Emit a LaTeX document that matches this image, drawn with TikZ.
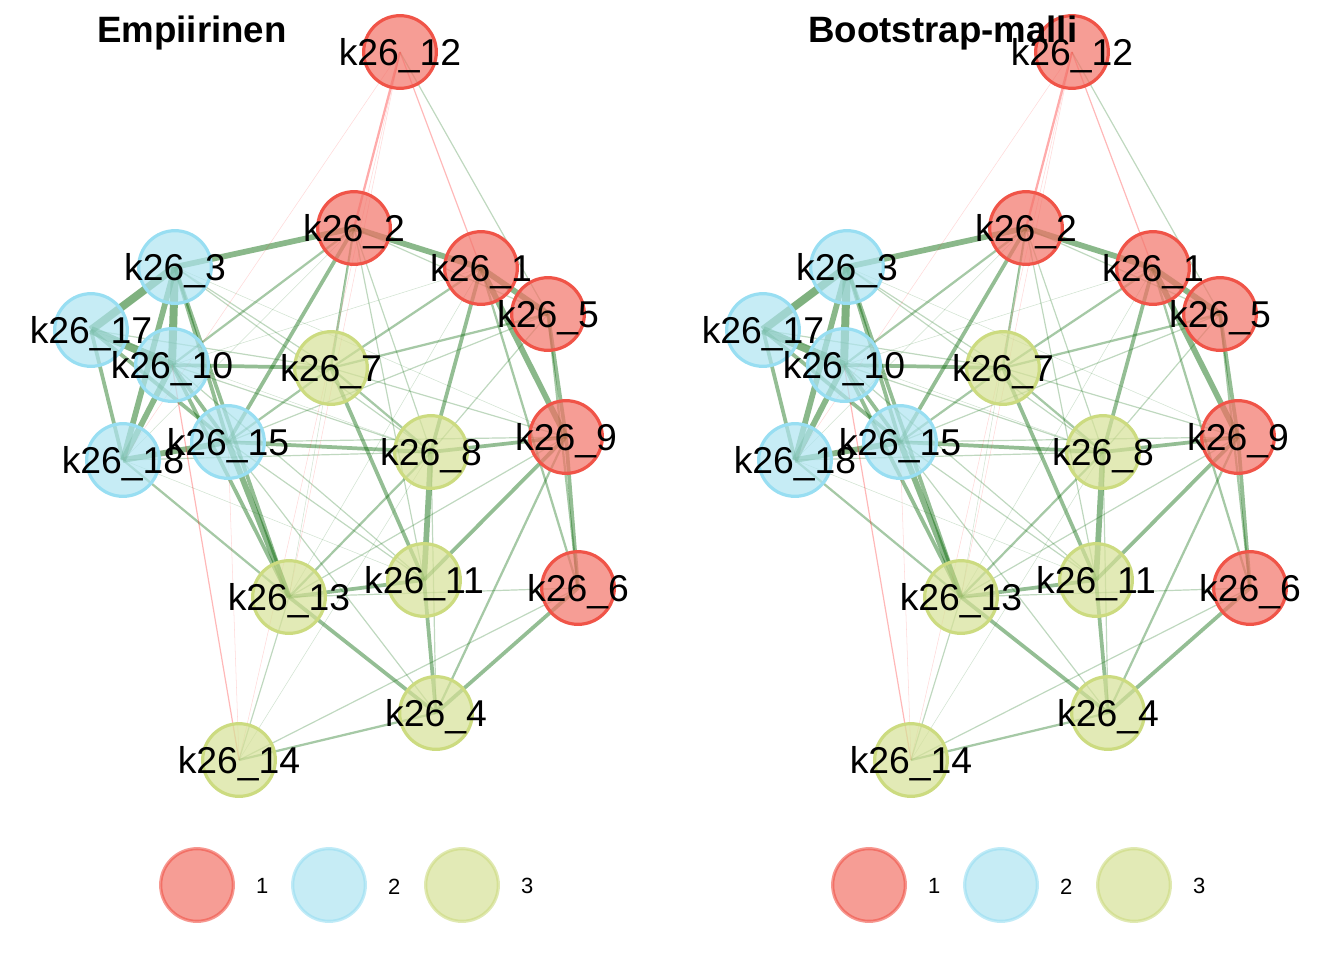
\documentclass[tikz,border=0pt]{standalone}
\usepackage{fontspec}
\setmainfont{Liberation Sans}
\usepackage{xcolor}
\usepackage{tikz}
\usetikzlibrary{backgrounds}

\definecolor{punatayte}{RGB}{242,115,104}
\definecolor{punareuna}{RGB}{240,84,72}
\definecolor{sinitayte}{RGB}{174,228,241}
\definecolor{sinireuna}{RGB}{152,222,242}
\definecolor{vihtayte}{RGB}{214,225,151}
\definecolor{vihreuna}{RGB}{204,219,128}
\definecolor{posedge}{RGB}{0,100,0}
\definecolor{negedge}{RGB}{255,0,0}

\tikzset{
    solmu/.style={circle, minimum size=54.5pt, line width=2.4pt, inner sep=0pt},
    grp1/.style={solmu, draw=punareuna, fill=punatayte, fill opacity=0.7},
    grp2/.style={solmu, draw=sinireuna, fill=sinitayte, fill opacity=0.7},
    grp3/.style={solmu, draw=vihreuna, fill=vihtayte, fill opacity=0.7},
    nimi/.style={font=\fontsize{28}{30}\selectfont, anchor=base, inner sep=0pt},
    otsikko/.style={font=\fontsize{27.5}{30}\selectfont\bfseries, anchor=base west, inner sep=0pt},
    selite/.style={font=\fontsize{16.5}{18}\selectfont, inner sep=0pt},
    pos0/.style={draw=posedge, line width=0.4pt, draw opacity=0.18},
    pos1/.style={draw=posedge, line width=0.9pt, draw opacity=0.25},
    pos2/.style={draw=posedge, line width=1.7pt, draw opacity=0.35},
    pos3/.style={draw=posedge, line width=2.8pt, draw opacity=0.42},
    pos4/.style={draw=posedge, line width=4.3pt, draw opacity=0.46},
    pos5/.style={draw=posedge, line width=6pt, draw opacity=0.5},
    neg0/.style={draw=negedge, line width=0.4pt, draw opacity=0.15},
    neg1/.style={draw=negedge, line width=0.9pt, draw opacity=0.28},
    neg2/.style={draw=negedge, line width=1.7pt, draw opacity=0.33},
}

% solmut: nro/x/y/ryhma (pikseleina)
\newcommand\solmut{12/400/52/1, 2/354/228/1, 1/481/268/1, 5/548/314/1, 9/566/437/1, 6/578/588/1,
    3/175/267/2, 17/91/330/2, 10/172/365/2, 15/228/442/2, 18/123/460/2,
    7/331/368/3, 8/431/452/3, 13/289/597/3, 11/424/580/3, 4/436/713/3, 14/239/760/3}

% kaaret: a/b/tyyli
\newcommand\kaaret{3/17/pos5, 3/10/pos5, 17/10/pos5,
    2/1/pos4, 3/2/pos4, 15/13/pos4, 8/11/pos4, 1/5/pos4, 1/9/pos4, 10/18/pos4, 3/18/pos4, 15/18/pos4,
    17/18/pos3, 17/15/pos3, 3/15/pos3, 10/15/pos3, 10/7/pos3, 15/8/pos3, 8/9/pos3, 2/15/pos3, 1/8/pos3,
    5/9/pos3, 9/6/pos3, 7/11/pos3, 13/11/pos3, 13/4/pos3, 11/4/pos3, 6/4/pos3, 9/11/pos3, 3/13/pos3, 10/13/pos3,
    2/7/pos2, 2/10/pos2, 1/7/pos2, 7/15/pos2, 5/7/pos2, 7/8/pos2, 18/13/pos2, 8/13/pos2, 9/4/pos2,
    4/14/pos2, 1/6/pos2, 5/6/pos2,
    5/8/pos1, 15/9/pos1, 18/8/pos1, 2/8/pos1, 2/11/pos1, 6/14/pos1, 9/13/pos1, 8/4/pos1, 12/5/pos1,
    3/7/pos1, 3/8/pos1, 10/8/pos1, 15/11/pos1, 13/14/pos1, 6/13/pos1, 15/4/pos1, 17/7/pos1, 2/5/pos1,
    10/11/pos1, 7/9/pos1, 5/15/pos1,
    2/13/pos0, 1/10/pos0, 2/18/pos0, 18/11/pos0, 8/14/pos0, 1/13/pos0, 3/9/pos0, 17/8/pos0,
    12/2/neg2, 12/1/neg1, 10/14/neg1, 15/14/neg0, 12/14/neg0, 12/18/neg0, 12/13/neg0}

\begin{document}
\begin{tikzpicture}[x=0.75pt, y=-0.75pt]
    \useasboundingbox (0,0) rectangle (1344,960);

    \foreach \p/\ox/\tx/\ttl in {L/0/97/Empiirinen, R/672/136/Bootstrap-malli} {
        \begin{scope}[shift={(\ox,0)}]
            % 1. Solmut
            \foreach \n/\x/\y/\g in \solmut
                \node[grp\g] (\p\n) at (\x,\y) {};

            % 2. Kaaret solmujen alle
            \begin{pgfonlayer}{background}
                \foreach \a/\b/\w in \kaaret
                    \draw[\w] (\p\a.center) -- (\p\b.center);
            \end{pgfonlayer}

            % 3. Nimiot ja otsikko
            \foreach \n/\x/\y/\g in \solmut
                \node[nimi] at ([yshift=-10pt]\p\n.center) {k26\_\n};
            \node[otsikko] (\p otsikko) at (\tx,42) {\ttl};

            % 4. Selite
            \foreach \g/\x in {1/197, 2/329, 3/462} {
                \node[grp\g, draw opacity=0.6] (\p g\g) at (\x,885) {};
                \node[selite] at ([xshift=49pt, yshift=-1pt]\p g\g.center) {\g};
            }
        \end{scope}
    }
\end{tikzpicture}
\end{document}
